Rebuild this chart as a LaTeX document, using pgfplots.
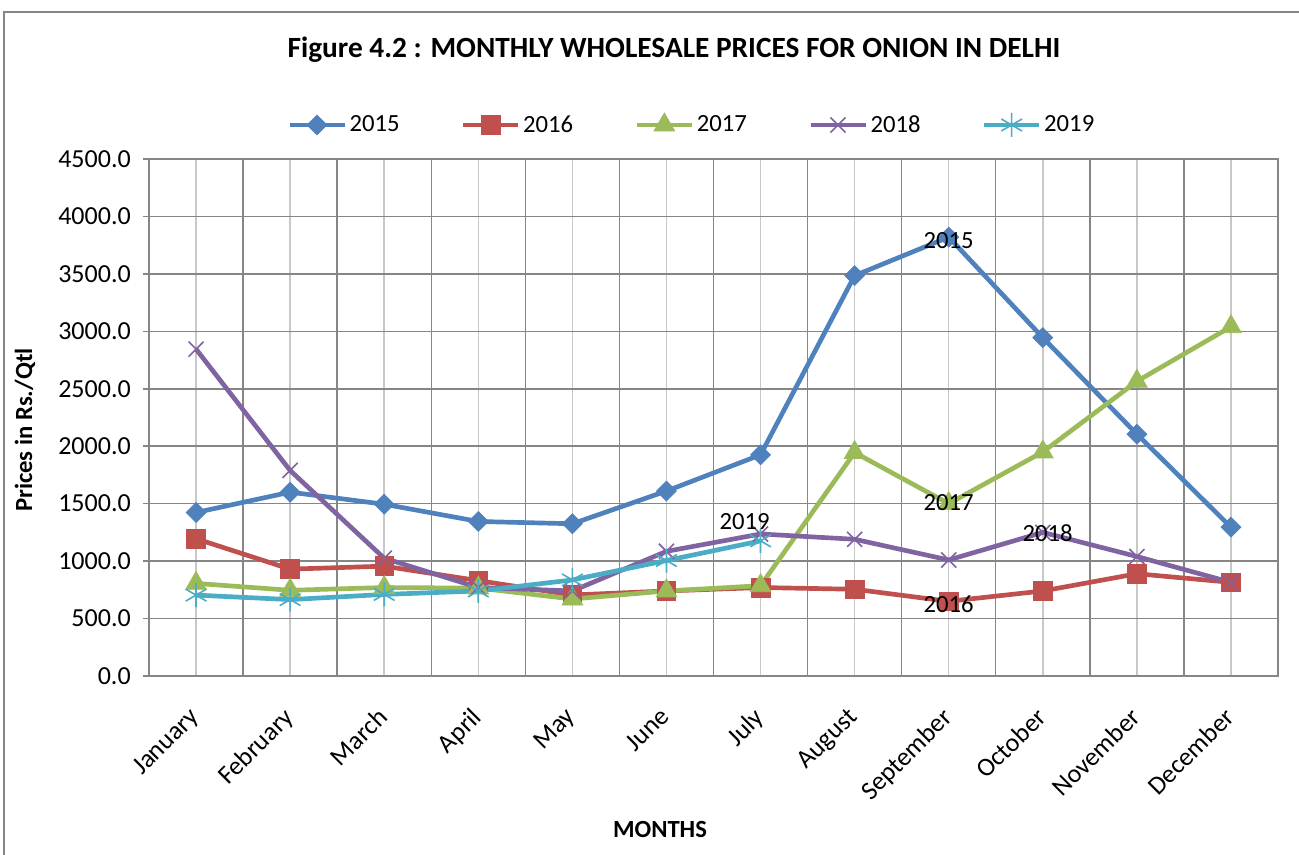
\documentclass[border=0pt]{standalone}
\usepackage{pgfplots}
\pgfplotsset{compat=1.18}
\usepackage{fontspec}
\setmainfont{Carlito}
\definecolor{c15}{RGB}{79,129,189}
\definecolor{c16}{RGB}{192,80,77}
\definecolor{c17}{RGB}{155,187,89}
\definecolor{c18}{RGB}{128,100,162}
\definecolor{c19}{RGB}{75,172,198}
\definecolor{gridd}{RGB}{134,134,134}
\definecolor{gridl}{RGB}{200,200,200}
\newcommand{\fs}{\fontsize{18.5}{22}\selectfont}
\newcommand{\ft}{\fontsize{19.5}{23}\selectfont}
\begin{document}
\begin{tikzpicture}
\useasboundingbox (0,0) rectangle (974.25pt,641.25pt);
\draw[gridd, line width=1.2pt] (3pt,-20pt) rectangle (1000pt,632.25pt);
\node[font=\bfseries\fontsize{22}{26}\selectfont] at (505.5pt,603.75pt) {Figure 4.2 : MONTHLY WHOLESALE PRICES FOR ONION IN DELHI};
\node[font=\bfseries\fs] at (495pt,18.75pt) {MONTHS};
\node[font=\bfseries\fs, rotate=90] at (18.75pt,318.75pt) {Prices in Rs./Qtl};
\begin{axis}[
  at={(111.75pt,134.25pt)}, anchor=south west, scale only axis,
  width=846.75pt, height=387.75pt,
  xmin=-0.5, xmax=11.5, ymin=0, ymax=4500,
  xtick={0,...,11},
  xticklabels={January,February,March,April,May,June,July,August,September,October,November,December},
  minor xtick={-0.5,0.5,...,11.5},
  ytick={0,500,...,4500},
  xmajorgrids, xminorgrids, ymajorgrids,
  major x grid style={gridl, line width=1.1pt},
  minor x grid style={gridd, line width=1.1pt},
  major y grid style={gridd, line width=1.1pt},
  axis line style={gridd, line width=1.1pt},
  tick pos=left, tick align=outside,
  major tick length=4.5pt, minor tick length=0pt,
  x tick style={draw=none},
  y tick style={gridd, line width=1.1pt},
  /pgf/number format/assume math mode=true,
  /pgf/number format/fixed, /pgf/number format/fixed zerofill,
  /pgf/number format/precision=1, /pgf/number format/1000 sep={},
  y tick label style={font=\ft, inner sep=0pt, xshift=-9pt},
  x tick label style={font=\ft, inner sep=0pt, xshift=-6pt, yshift=-18pt, rotate=45, anchor=north east},
  legend columns=5,
  legend style={at={(0.481,1.0658)}, anchor=center, draw=none, fill=none, font=\fs,
    nodes={inner xsep=2pt},
    /tikz/every even column/.append style={column sep=44pt}},
  legend cell align=left,
  legend image code/.code={\draw[mark repeat=2, mark phase=2] plot coordinates {(0pt,0pt) (20.6pt,0pt) (41.25pt,0pt)};},
  every axis plot/.append style={line width=3.5pt},
]
\addplot[c15, mark=square*, mark size=5.3pt, mark options={rotate=45, line width=0.5pt}] coordinates {
(0,1423) (1,1600) (2,1495) (3,1345) (4,1325) (5,1610) (6,1925) (7,3485) (8,3820) (9,2945) (10,2105) (11,1295)};
\addlegendentry{2015}
\addplot[c16, mark=square*, mark size=7pt, mark options={line width=0.5pt}] coordinates {
(0,1195) (1,930) (2,956) (3,830) (4,705) (5,740) (6,770) (7,755) (8,650) (9,740) (10,890) (11,815)};
\addlegendentry{2016}
\addplot[c17, mark=triangle*, mark size=9pt, mark options={line width=0.5pt}] coordinates {
(0,806) (1,746) (2,770) (3,765) (4,670) (5,740) (6,786) (7,1945) (8,1500) (9,1950) (10,2565) (11,3040)};
\addlegendentry{2017}
\addplot[c18, mark=x, mark size=8pt, mark options={line width=1.2pt}] coordinates {
(0,2845) (1,1789) (2,1025) (3,770) (4,740) (5,1085) (6,1236) (7,1190) (8,1010) (9,1250) (10,1040) (11,815)};
\addlegendentry{2018}
\addplot[c19, mark=asterisk, mark size=9pt, mark options={line width=1.2pt}] coordinates {
(0,704) (1,665) (2,710) (3,740) (4,836) (5,1005) (6,1176)};
\addlegendentry{2019}
\coordinate (l15) at (axis cs:8,3790);
\coordinate (l16) at (axis cs:8,627);
\coordinate (l17) at (axis cs:8,1506);
\coordinate (l19) at (axis cs:5.83,1340);
\coordinate (l18) at (axis cs:9.05,1245);
\end{axis}
\node[font=\fs] at (l15) {2015};
\node[font=\fs] at (l16) {2016};
\node[font=\fs] at (l17) {2017};
\node[font=\fs] at (l19) {2019};
\node[font=\fs] at (l18) {2018};
\end{tikzpicture}
\end{document}
